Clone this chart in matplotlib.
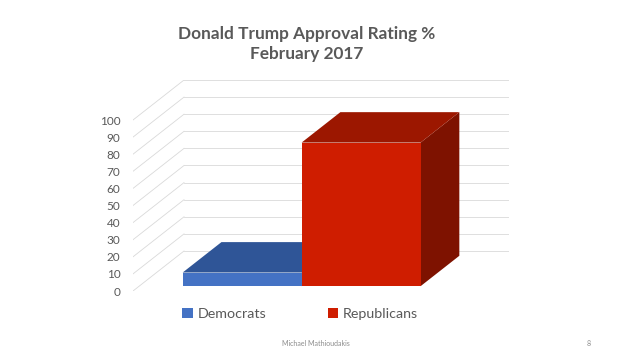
import matplotlib
matplotlib.use("Agg")
import matplotlib.pyplot as plt
from matplotlib.patches import Polygon, Patch

# ---- data ----
series = ["Democrats", "Republicans"]
values = [8, 84]
y_ticks = [0, 10, 20, 30, 40, 50, 60, 70, 80, 90, 100]
title = "Donald Trump Approval Rating %\nFebruary 2017"
footer_left = "Michael Mathioudakis"
footer_right = "8"

# ---- style ----
front_colors = ["#4472C4", "#CF1D00"]
top_colors = ["#2F5597", "#9C1700"]
side_colors = ["#2A4B86", "#7E1200"]
grid_color = "#D9D9D9"
text_color = "#595959"
plt.rcParams['font.family'] = ['Lato', 'DejaVu Sans']

W, H = 638, 359
fig = plt.figure(figsize=(W / 100, H / 100), dpi=100)
ax = fig.add_axes([133 / W, 68 / H, 376 / W, 211 / H])

DX = 0.157   # oblique depth offset (category units)
DY = 23.4    # oblique depth offset (value units)
ax.set_xlim(0, 1 + DX)
ax.set_ylim(0, 100 + DY)

# walls gridlines
for v in y_ticks:
    ax.plot([0, DX], [v, v + DY], color=grid_color, lw=0.6, zorder=1)
    ax.plot([DX, 1 + DX], [v + DY, v + DY], color=grid_color, lw=0.6, zorder=1)

# bars (one category, two series)
w = 0.366
d0, d1 = 0.12, 0.88
n = len(values)
for i, v in enumerate(values):
    x0 = 0.5 - n * w / 2 + i * w
    fx0 = x0 + d0 * DX
    fx1 = x0 + w + d0 * DX
    bx0 = x0 + d1 * DX
    bx1 = x0 + w + d1 * DX
    fy = d0 * DY
    by = d1 * DY
    side = Polygon([(fx1, fy), (bx1, by), (bx1, v + by), (fx1, v + fy)],
                   closed=True, facecolor=side_colors[i], edgecolor='none', zorder=3 + i)
    top = Polygon([(fx0, v + fy), (fx1, v + fy), (bx1, v + by), (bx0, v + by)],
                  closed=True, facecolor=top_colors[i], edgecolor='none', zorder=3 + i)
    front = Polygon([(fx0, fy), (fx1, fy), (fx1, v + fy), (fx0, v + fy)],
                    closed=True, facecolor=front_colors[i], edgecolor='none', zorder=3 + i)
    for p in (side, top, front):
        ax.add_patch(p)

ax.set_yticks(y_ticks)
ax.set_yticklabels([str(t) for t in y_ticks])
ax.set_xticks([])
ax.tick_params(axis='y', length=0, pad=9, labelsize=8.5, labelcolor=text_color)
for s in ax.spines.values():
    s.set_visible(False)
ax.patch.set_visible(False)

fig.text(307 / W, 1 - 44 / H, title, ha='center', va='center', fontsize=12.4,
         fontweight='bold', color=text_color, linespacing=1.3)

handles = [Patch(facecolor=front_colors[i], edgecolor='none') for i in range(n)]
fig.legend(handles, series, loc='center', bbox_to_anchor=(300 / W, 1 - 314 / H),
           ncol=2, frameon=False, fontsize=10.3, labelcolor=text_color,
           handlelength=0.75, handleheight=0.75, handletextpad=0.3, columnspacing=4.3)

fig.text(282 / W, 1 - 343 / H, footer_left, ha='left', va='center', fontsize=5,
         color="#8C8C8C")
fig.text(587 / W, 1 - 343 / H, footer_right, ha='left', va='center', fontsize=5,
         color="#8C8C8C")

fig.savefig("out.png", dpi=100)
